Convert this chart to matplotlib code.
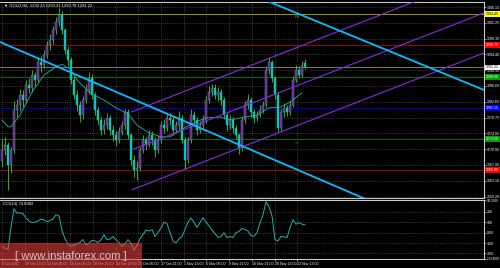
import numpy as np
import matplotlib
matplotlib.use("Agg")
import matplotlib.pyplot as plt
from matplotlib.patches import Rectangle
from matplotlib.transforms import blended_transform_factory

plt.rcParams["font.family"] = ["Liberation Sans", "DejaVu Sans"]

# GOLD H4 candles
opens = [1268.0, 1270.8, 1272.0, 1267.0, 1270.8, 1280.7, 1281.9, 1284.4, 1283.1, 1286.9,
         1286.1, 1289.3, 1288.1, 1292.5, 1291.8, 1294.3, 1296.7, 1298.0, 1300.5, 1302.4,
         1304.2, 1300.5, 1295.5, 1293.0, 1288.1, 1284.4, 1281.9, 1279.4, 1283.1, 1285.6,
         1288.6, 1284.4, 1280.7, 1278.2, 1275.7, 1276.9, 1278.7, 1275.7, 1274.5, 1273.2,
         1275.2, 1276.9, 1280.2, 1274.5, 1268.3, 1265.8, 1266.3, 1270.8, 1273.2, 1272.0,
         1274.5, 1273.2, 1270.8, 1273.2, 1276.9, 1276.2, 1278.7, 1278.2, 1275.7, 1276.9,
         1278.7, 1273.2, 1268.3, 1273.2, 1279.4, 1278.2, 1275.7, 1276.9, 1278.2, 1283.1,
         1285.1, 1286.1, 1284.4, 1285.1, 1283.1, 1279.4, 1276.9, 1278.2, 1276.2, 1274.5,
         1271.3, 1278.2, 1281.9, 1283.1, 1280.2, 1278.7, 1279.4, 1280.7, 1281.9, 1290.6,
         1292.5, 1288.6, 1284.4, 1276.2, 1280.2, 1281.2, 1280.2, 1281.9, 1288.1, 1290.6,
         1289.3, 1292.23]
closes = [1270.8, 1272.0, 1267.0, 1270.8, 1280.7, 1281.9, 1284.4, 1283.1, 1286.9, 1286.1,
          1289.3, 1288.1, 1292.5, 1291.8, 1294.3, 1296.7, 1298.0, 1300.5, 1302.4, 1304.2,
          1300.5, 1295.5, 1293.0, 1288.1, 1284.4, 1281.9, 1279.4, 1283.1, 1285.6, 1288.6,
          1284.4, 1280.7, 1278.2, 1275.7, 1276.9, 1278.7, 1275.7, 1274.5, 1273.2, 1275.2,
          1276.9, 1280.2, 1274.5, 1268.3, 1265.8, 1266.3, 1270.8, 1273.2, 1272.0, 1274.5,
          1273.2, 1270.8, 1273.2, 1276.9, 1276.2, 1278.7, 1278.2, 1275.7, 1276.9, 1278.7,
          1273.2, 1268.3, 1273.2, 1279.4, 1278.2, 1275.7, 1276.9, 1278.2, 1283.1, 1285.1,
          1286.1, 1284.4, 1285.1, 1283.1, 1279.4, 1276.9, 1278.2, 1276.2, 1274.5, 1271.3,
          1278.2, 1281.9, 1283.1, 1280.2, 1278.7, 1279.4, 1280.7, 1281.9, 1290.6, 1292.5,
          1288.6, 1284.4, 1276.2, 1280.2, 1281.2, 1280.2, 1281.9, 1288.1, 1290.6, 1289.3,
          1291.5, 1291.22]
highs = [1273.5, 1274.0, 1272.8, 1271.5, 1283.0, 1283.5, 1285.8, 1285.5, 1288.0, 1288.5,
         1290.5, 1290.0, 1293.5, 1294.0, 1295.5, 1297.8, 1299.5, 1301.5, 1303.8, 1305.8,
         1305.2, 1301.0, 1296.5, 1293.8, 1289.0, 1285.5, 1283.0, 1284.0, 1287.0, 1290.0,
         1289.5, 1285.0, 1281.5, 1279.0, 1278.5, 1280.0, 1279.5, 1277.0, 1275.5, 1276.5,
         1278.0, 1281.0, 1280.8, 1275.0, 1269.5, 1268.0, 1271.5, 1274.5, 1274.0, 1275.8,
         1275.5, 1274.0, 1274.5, 1278.0, 1278.5, 1280.0, 1279.8, 1279.0, 1278.0, 1280.5,
         1279.5, 1274.0, 1274.0, 1281.0, 1280.5, 1279.0, 1278.0, 1279.5, 1284.0, 1286.5,
         1287.2, 1287.0, 1286.3, 1285.8, 1283.8, 1280.0, 1279.5, 1279.0, 1277.0, 1275.0,
         1279.0, 1283.0, 1284.5, 1283.8, 1281.0, 1280.5, 1281.8, 1283.0, 1291.5, 1293.8,
         1293.0, 1289.0, 1285.0, 1281.0, 1282.5, 1282.0, 1283.0, 1289.0, 1291.8, 1291.5,
         1292.8, 1293.31]
lows = [1266.5, 1269.5, 1260.8, 1265.0, 1270.0, 1279.0, 1280.5, 1281.5, 1282.5, 1284.8,
        1285.0, 1286.5, 1287.5, 1290.0, 1291.0, 1293.5, 1295.5, 1297.0, 1299.5, 1301.5,
        1299.5, 1294.5, 1291.5, 1287.0, 1283.5, 1280.5, 1277.8, 1278.5, 1282.5, 1284.5,
        1283.5, 1279.5, 1277.0, 1274.5, 1274.8, 1276.0, 1274.5, 1273.0, 1271.8, 1272.5,
        1274.5, 1276.0, 1273.5, 1267.0, 1264.0, 1263.3, 1265.5, 1270.0, 1270.8, 1271.5,
        1272.0, 1269.0, 1270.0, 1272.5, 1275.0, 1275.5, 1277.0, 1274.5, 1275.0, 1276.0,
        1272.5, 1266.0, 1267.5, 1272.5, 1276.8, 1274.5, 1275.0, 1276.0, 1277.5, 1282.5,
        1284.0, 1283.5, 1283.0, 1282.0, 1278.5, 1275.5, 1276.0, 1275.0, 1273.5, 1269.8,
        1270.5, 1277.5, 1281.0, 1279.0, 1277.5, 1278.0, 1278.8, 1280.0, 1281.5, 1289.5,
        1287.5, 1283.5, 1275.2, 1275.5, 1279.0, 1279.2, 1279.5, 1281.5, 1287.5, 1288.5,
        1288.8, 1290.78]

# moving average (read at a few bars)
ma_bar = [0, 2, 3, 6, 10, 14, 18, 20, 23, 25, 29, 34, 38, 42, 45, 49, 53, 56, 59,
          64, 68, 73, 76, 81, 85, 89, 93, 96, 100]
ma_val = [1278.2, 1276.5, 1276.5, 1279.4, 1285.1, 1289.3, 1291.3, 1292.0, 1290.6,
          1288.1, 1285.1, 1283.1, 1281.2, 1279.7, 1276.9, 1275.0, 1274.0, 1274.0,
          1275.5, 1277.5, 1278.7, 1278.9, 1278.2, 1278.9, 1279.4, 1281.2, 1281.4,
          1282.6, 1284.9]

cci = [-130, -150, -160, 50, 228, 185, 190, 180, 140, 110,
       95, 100, 110, 130, 120, 105, 115, 130, 171, 160,
       20, -60, -110, -133, -120, -105, -95, -67, -120, -100,
       -75, -80, -95, -70, -20, -70, -60, -38, -70, -95,
       -135, -110, -67, -105, -170, -120, -60, -20, 25, 15,
       29, -38, 0, 45, 100, 85, 0, -80, -100, -60,
       -38, 29, 100, 140, 100, 48, 95, 143, 100, 65,
       25, -10, -45, -40, 0, -48, -38, -48, 0, 10,
       40, 30, 15, -30, -35, 0, 95, 171, 295, 250,
       160, -67, -80, -38, -40, -48, 48, 124, 80, 95,
       80, 74.9]

# drawn objects: (bars, prices)
channel = [([43.3, 160.7], [1280.2, 1314.2]),
           ([43.3, 160.7], [1270.8, 1304.7]),
           ([43.3, 160.7], [1260.9, 1294.8])]
cyan_lines = [([-0.7, 160.7], [1297.5, 1246.0]),
              ([80.0, 160.7], [1310.2, 1285.6])]

level_names = ["R3", "R2", "R1", "PP", "S1", "S2"]
level_values = [1304.45, 1296.75, 1288.80, 1281.15, 1273.50, 1265.80]
level_colors = ["#9a9a00", "#a00000", "#007000", "#0000c0", "#007000", "#a00000"]
tag_colors = ["#ffff00", "#ff0000", "#00a000", "#0000ff", "#00a000", "#ff0000"]
tag_text = ["black", "white", "white", "white", "white", "white"]
bid = 1291.22

price_ticks = [1306.15, 1302.25, 1298.30, 1294.40, 1290.50, 1286.60, 1282.65,
               1278.75, 1274.85, 1270.95, 1267.05, 1263.10, 1259.20]
date_labels = ["6 Oct 2017", "10 Oct 13:00", "12 Oct 05:00", "16 Oct 05:00",
               "18 Oct 21:00", "20 Oct 13:00", "25 Oct 05:00", "27 Oct 21:00",
               "1 Nov 13:00", "6 Nov 05:00", "9 Nov 21:00", "16 Nov 21:00",
               "20 Nov 13:00", "22 Nov 13:00"]

fs = 2.6

fig = plt.figure(figsize=(5, 2.68), dpi=100, facecolor="black")
ax = fig.add_axes([0, 70 / 268, 484 / 500, 196 / 268])
ax2 = fig.add_axes([0, 9 / 268, 484 / 500, 59 / 268])

xlim = (-2 / 3, 482 / 3)
date_ticks = np.arange(len(date_labels)) * 7.57
grid_kw = dict(color="#6a6a6a", linestyle=(0, (1, 2)), linewidth=0.5)

for a in (ax, ax2):
    a.set_facecolor("black")
    a.set_xlim(*xlim)
    a.set_xticks(date_ticks)
    a.yaxis.tick_right()
    a.grid(True, **grid_kw)
    a.set_axisbelow(True)
    for s in a.spines.values():
        s.set_color("#c8c8c8")
        s.set_linewidth(0.8)
    a.spines["left"].set_visible(False)
    a.tick_params(colors="white", labelsize=fs, length=1.5, width=0.4, pad=0.8)

# main price panel
ax.set_ylim(1258.87, 1307.39)
ax.set_yticks(price_ticks)
ax.set_yticklabels(["%.2f" % v for v in price_ticks])
ax.tick_params(axis="x", labelbottom=False, length=0)

x = np.arange(len(closes))
o = np.array(opens)
c = np.array(closes)
up = c >= o
ax.vlines(x, lows, highs, colors="#32cd32", linewidth=0.6, zorder=3)
ax.bar(x[up], np.maximum(c[up] - o[up], 0.15), bottom=o[up], width=0.7,
       color="#9400d3", edgecolor="#32cd32", linewidth=0.3, zorder=4)
ax.bar(x[~up], np.minimum(c[~up] - o[~up], -0.15), bottom=o[~up], width=0.7,
       color="#00bfff", edgecolor="#32cd32", linewidth=0.3, zorder=4)

ax.plot(ma_bar, ma_val, color="#20b2aa", linewidth=0.6, zorder=5)

for name, val, col in zip(level_names, level_values, level_colors):
    ax.axhline(val, color=col, linewidth=0.7, zorder=2)
    ax.text(97.5, val - 0.4, name, color=col, fontsize=3.0, va="top", zorder=2)
ax.axhline(bid, color="#8a8a8a", linewidth=0.6, zorder=2)

for bx, py in channel:
    ax.plot(bx, py, color="#8a2be2", linewidth=0.8, zorder=6)
for bx, py in cyan_lines:
    ax.plot(bx, py, color="#00bfff", linewidth=1.3, zorder=6)

tr = blended_transform_factory(ax.transAxes, ax.transData)
for val, fc, tc in list(zip(level_values, tag_colors, tag_text)) + [(bid, "white", "black")]:
    ax.text(1.004, val, "%.2f" % val, transform=tr, fontsize=fs, color=tc,
            va="center", ha="left", clip_on=False, zorder=10,
            bbox=dict(boxstyle="square,pad=0.2", fc=fc, ec="none"))

ax.text(0.008, 0.99, "\u25bc GOLD,H4  1292.23 1293.31 1290.78 1291.22",
        transform=ax.transAxes, color="white", fontsize=3.0, va="top")

# CCI panel
cci_min, cci_max = -252.885, 311.995
ax2.set_ylim(cci_min, cci_max)
ax2.set_yticks([cci_max, 200, 100, 0, -100, -200, cci_min])
ax2.set_yticklabels(["311.9950", "200", "100", "0.00", "-100", "-200", "-252.8850"])
ylabels = ax2.get_yticklabels()
ylabels[0].set_fontsize(2.1)
ylabels[-1].set_fontsize(2.1)
ax2.set_xticklabels(date_labels, ha="left")
ax2.plot(x, cci, color="#20b2aa", linewidth=0.7, zorder=3)
ax2.text(0.006, 0.96, "CCI(14) 74.8982", transform=ax2.transAxes,
         color="white", fontsize=3.0, va="top")

# watermark
fig.patches.append(Rectangle((0, 0), 142 / 500, 25 / 268, transform=fig.transFigure,
                             facecolor="#e03c3c", alpha=0.6, zorder=20))
fig.text(71 / 500, 12 / 268, "[ www.instaforex.com ]", color="#d8d8d8",
         fontsize=8, ha="center", va="center", zorder=21, alpha=0.9)

fig.savefig("out.png", dpi=100, facecolor="black")
